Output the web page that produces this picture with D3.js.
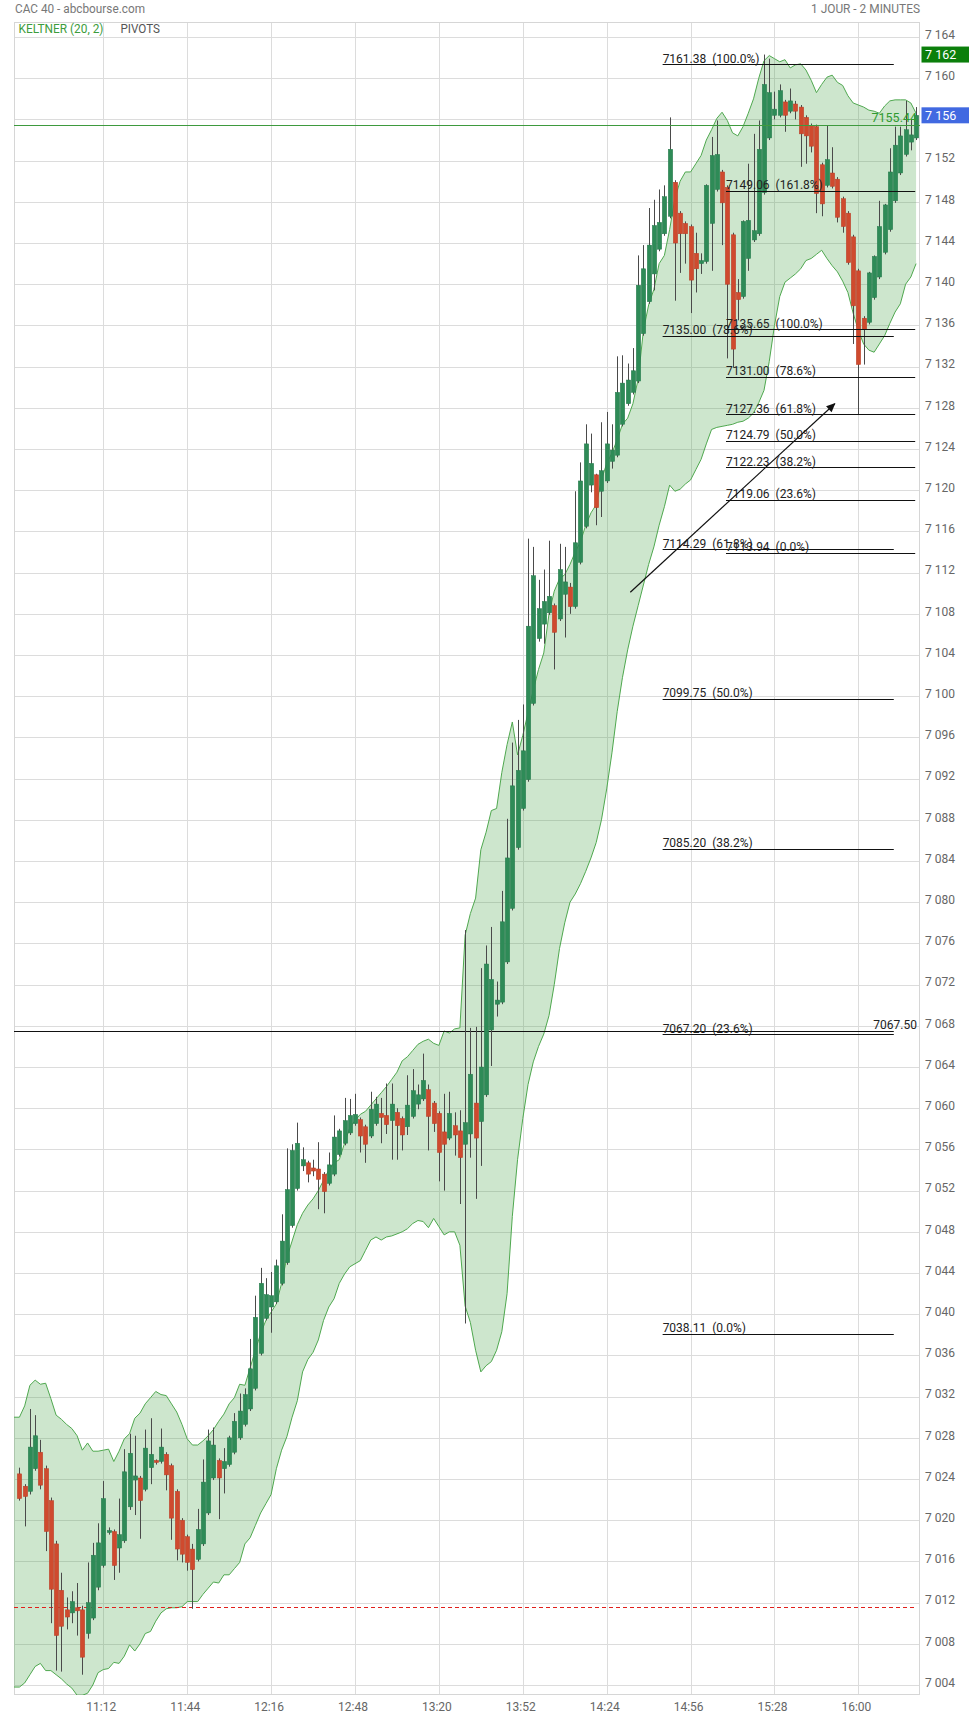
<!DOCTYPE html>
<html><head><meta charset="utf-8">
<script src="https://cdn.jsdelivr.net/npm/d3@7"></script>
<style>
body{margin:0;background:#fff;}
svg text{font-family:Roboto,"Noto Sans",Arial,sans-serif;}
</style>
</head><body>
<script>
// ---------------- DATA ----------------
const startTime = "10:40";          // first 2-minute candle
const candleMinutes = 2;
const xDomain = ["10:37:56", "16:23:30"];
const yDomain = [7003.03, 7165.46];

const opens = [
7024.5,7023.3,7022.8,7025.0,7026.6,7025.0,7021.9,7017.7,7013.2,7011.3,
7011.0,7011.5,7011.3,7009.0,7010.5,7013.5,7015.6,7018.8,7018.9,7017.3,
7018.0,7021.3,7023.9,7024.1,7023.0,7025.1,7025.8,7025.7,7026.4,7025.3,
7022.8,7020.0,7018.4,7017.2,7016.2,7017.7,7020.7,7024.1,7025.8,7025.0,
7025.4,7026.6,7028.0,7029.3,7030.8,7032.8,7036.2,7039.6,7040.7,7041.2,
7043.0,7045.0,7048.6,7052.2,7054.4,7054.7,7054.2,7054.1,7053.6,7052.7,
7053.6,7055.5,7056.6,7057.6,7058.5,7058.9,7058.2,7057.3,7058.5,7059.5,
7059.3,7058.8,7059.6,7059.0,7058.2,7059.2,7060.4,7060.9,7061.8,7060.5,
7059.5,7057.7,7057.1,7058.3,7057.8,7056.5,7057.5,7060.5,7058.7,7061.3,
7067.6,7070.1,7070.3,7074.2,7079.4,7085.3,7089.1,7091.9,7099.3,7105.6,
7107.0,7108.1,7108.8,7107.5,7109.9,7110.6,7108.7,7113.0,7116.5,7120.5,
7121.5,7119.9,7120.9,7122.8,7123.4,7126.4,7128.4,7129.5,7130.6,7135.2,
7138.3,7141.0,7143.4,7144.9,7146.6,7149.9,7146.9,7145.9,7145.6,7143.0,
7142.0,7142.2,7145.9,7149.2,7150.9,7149.4,7144.8,7139.2,7138.8,7142.5,
7144.3,7144.9,7148.9,7154.2,7156.4,7156.4,7157.7,7156.8,7157.5,7157.2,
7156.2,7155.4,7155.3,7151.6,7149.6,7150.8,7150.2,7148.3,7146.9,7144.6,
7141.3,7136.7,7136.3,7138.7,7140.7,7143.1,7145.3,7148.1,7150.8,7152.6,
7153.8,7154.2];

const highs = [
7025.1,7023.5,7030.8,7030.2,7027.8,7025.3,7022.2,7018.0,7014.9,7012.5,
7013.1,7013.9,7011.7,7015.9,7017.8,7019.7,7023.8,7019.3,7019.1,7022.1,
7026.9,7028.4,7028.2,7024.3,7028.8,7029.9,7025.9,7028.9,7026.6,7025.5,
7023.0,7020.2,7018.6,7017.7,7021.1,7025.9,7028.8,7029.0,7026.0,7027.0,
7028.2,7030.4,7032.3,7032.8,7037.6,7041.8,7044.5,7043.5,7044.1,7045.3,
7049.7,7056.1,7056.5,7058.6,7056.2,7054.9,7055.0,7056.7,7053.8,7055.7,
7059.3,7058.0,7061.0,7060.9,7061.4,7059.1,7058.4,7061.6,7061.1,7061.0,
7062.4,7062.4,7060.0,7059.2,7063.2,7063.8,7062.3,7065.3,7062.3,7060.7,
7059.7,7061.4,7061.6,7059.6,7059.8,7077.3,7067.8,7067.9,7073.6,7075.8,
7077.6,7072.3,7081.1,7088.1,7095.5,7097.7,7099.2,7115.3,7114.5,7111.3,
7112.3,7115.1,7109.0,7114.8,7114.5,7111.0,7119.9,7122.7,7126.4,7125.5,
7121.6,7126.6,7127.6,7126.4,7133.0,7133.1,7132.3,7133.8,7142.8,7143.8,
7147.4,7148.2,7149.2,7149.6,7156.2,7150.1,7147.1,7146.1,7145.8,7145.0,
7143.0,7149.7,7154.3,7155.9,7151.1,7149.6,7145.0,7140.5,7146.2,7151.7,
7154.6,7155.9,7162.3,7161.9,7158.7,7159.4,7157.9,7159.0,7157.8,7157.4,
7156.4,7155.6,7155.5,7151.8,7155.4,7153.3,7150.4,7148.5,7147.1,7144.8,
7141.5,7136.9,7141.2,7142.8,7148.1,7147.8,7153.2,7155.3,7155.3,7157.8,
7156.0,7157.2];

const lows = [
7021.9,7019.4,7022.5,7024.8,7023.0,7017.0,7010.0,7005.4,7005.3,7009.4,
7010.0,7008.8,7005.0,7008.5,7010.3,7013.2,7015.4,7018.6,7014.2,7014.9,
7017.8,7021.0,7020.5,7018.2,7022.8,7023.5,7025.4,7025.5,7022.9,7018.1,
7016.1,7015.9,7015.1,7011.4,7016.0,7017.5,7020.5,7023.9,7020.1,7022.6,
7025.2,7026.4,7027.8,7029.1,7030.6,7032.6,7036.0,7039.4,7038.2,7041.0,
7042.8,7044.8,7048.4,7052.0,7053.9,7052.8,7053.4,7050.2,7049.8,7052.5,
7053.4,7055.3,7056.4,7057.4,7058.3,7055.7,7054.7,7057.1,7058.3,7056.6,
7057.5,7055.0,7055.0,7055.9,7057.4,7059.0,7059.9,7060.7,7055.9,7057.7,
7052.9,7052.0,7056.9,7055.4,7050.7,7039.1,7055.2,7051.2,7054.4,7061.1,
7064.1,7068.9,7070.1,7074.0,7079.2,7085.1,7088.9,7091.7,7099.1,7105.3,
7105.1,7107.9,7102.6,7107.3,7105.7,7108.0,7108.5,7112.8,7116.3,7119.8,
7116.6,7117.4,7120.7,7122.1,7123.2,7126.2,7128.2,7129.3,7130.4,7135.0,
7138.1,7139.4,7143.2,7144.7,7146.4,7138.4,7141.1,7142.0,7137.2,7139.2,
7141.0,7142.0,7141.3,7149.0,7143.8,7132.8,7131.9,7136.5,7138.6,7141.3,
7144.1,7144.7,7148.7,7154.0,7156.0,7156.2,7154.8,7156.6,7156.0,7151.4,
7151.7,7152.8,7146.9,7146.6,7149.4,7149.3,7146.0,7145.0,7141.9,7134.2,
7127.3,7132.2,7136.1,7138.5,7140.5,7142.9,7145.1,7147.9,7150.6,7152.4,
7153.0,7154.0];

const closes = [
7022.1,7022.3,7027.1,7028.2,7023.4,7018.9,7013.3,7008.8,7009.7,7010.6,
7012.1,7011.2,7006.7,7012.0,7016.6,7017.8,7022.1,7019.0,7015.6,7018.6,
7024.7,7026.5,7024.3,7021.9,7027.0,7026.4,7025.6,7027.1,7024.4,7020.2,
7017.2,7016.7,7015.9,7015.2,7019.1,7023.7,7027.7,7027.3,7024.1,7025.7,
7028.0,7029.6,7030.6,7032.2,7034.7,7039.7,7043.0,7041.9,7041.8,7044.7,
7047.1,7052.1,7055.9,7056.6,7055.0,7053.6,7053.9,7053.1,7051.9,7054.5,
7057.2,7057.8,7058.8,7059.3,7059.4,7057.3,7056.5,7059.9,7060.4,7059.1,
7058.4,7060.4,7058.3,7057.4,7060.3,7061.7,7061.3,7062.7,7059.2,7058.5,
7055.7,7056.5,7059.5,7057.4,7055.2,7058.6,7063.3,7057.1,7064.0,7074.0,
7072.5,7070.5,7078.1,7084.3,7091.3,7092.8,7094.7,7106.8,7111.7,7108.5,
7109.2,7109.7,7106.2,7112.3,7111.1,7108.7,7114.9,7120.9,7124.5,7122.6,
7118.3,7121.9,7124.5,7123.9,7129.5,7130.4,7130.7,7131.6,7139.9,7141.5,
7143.8,7145.7,7146.0,7148.5,7153.1,7144.0,7144.9,7144.9,7140.4,7141.5,
7142.3,7149.6,7152.5,7152.6,7147.9,7140.0,7133.7,7138.5,7146.1,7146.2,
7145.2,7153.1,7159.4,7158.6,7157.0,7158.8,7156.4,7157.8,7156.8,7154.6,
7154.4,7153.4,7148.8,7147.8,7152.1,7149.5,7146.5,7145.6,7142.1,7137.9,
7132.2,7135.6,7141.1,7142.7,7145.6,7147.7,7150.9,7153.5,7154.4,7155.0,
7154.5,7156.4];

const keltnerUpper = [
7030.0,7031.1,7033.1,7033.6,7033.2,7033.3,7031.8,7030.2,7029.8,7029.3,
7028.9,7028.2,7026.8,7027.5,7026.7,7026.7,7026.8,7026.9,7025.7,7026.7,
7027.9,7028.4,7029.9,7030.4,7031.3,7031.9,7032.5,7032.2,7032.1,7031.3,
7030.5,7029.3,7027.9,7027.3,7027.3,7027.7,7028.2,7028.8,7029.6,7030.3,
7031.3,7031.9,7033.2,7033.1,7034.8,7036.5,7038.1,7039.4,7040.2,7041.0,
7043.0,7045.5,7047.1,7048.7,7049.8,7050.6,7051.2,7052.0,7053.0,7054.0,
7054.7,7055.0,7056.6,7058.1,7058.8,7059.4,7059.7,7060.3,7060.9,7061.5,
7062.1,7062.8,7063.5,7064.6,7065.0,7065.6,7066.2,7066.5,7066.7,7066.3,
7066.1,7067.5,7067.3,7067.7,7067.8,7076.8,7078.9,7080.4,7085.1,7086.8,
7088.9,7089.1,7092.6,7095.3,7097.5,7094.3,7096.2,7098.4,7100.6,7102.6,
7104.2,7108.0,7110.2,7111.4,7111.8,7112.8,7114.0,7115.0,7116.6,7117.8,
7118.6,7121.0,7122.6,7123.6,7124.9,7126.4,7127.0,7128.4,7130.8,7135.5,
7138.0,7139.5,7142.0,7142.8,7145.3,7148.3,7150.0,7150.9,7150.9,7151.7,
7152.5,7154.0,7155.0,7156.1,7156.7,7155.9,7154.7,7154.4,7155.3,7156.6,
7158.0,7160.0,7161.7,7162.2,7161.9,7161.6,7161.8,7161.0,7161.3,7161.4,
7160.8,7159.8,7158.6,7159.4,7160.1,7160.3,7159.6,7159.3,7158.3,7157.6,
7157.4,7157.2,7156.9,7156.8,7156.6,7157.3,7157.8,7157.9,7157.9,7157.9,
7157.6,7156.6];

const keltnerLower = [
7003.8,7004.2,7005.0,7005.8,7006.1,7005.4,7005.4,7005.0,7004.6,7004.1,
7003.7,7003.0,7003.0,7003.2,7004.0,7005.2,7005.5,7005.6,7006.2,7006.1,
7006.8,7007.9,7007.3,7008.0,7009.0,7009.2,7010.2,7011.0,7011.4,7011.5,
7011.5,7011.6,7012.1,7012.1,7012.1,7012.8,7013.4,7014.0,7013.9,7014.7,
7014.7,7015.3,7015.9,7017.7,7018.3,7019.5,7020.7,7021.6,7022.5,7025.0,
7026.8,7028.1,7030.0,7031.6,7034.4,7035.6,7036.3,7037.5,7039.4,7040.7,
7041.5,7043.0,7043.9,7044.6,7044.9,7045.2,7046.2,7047.2,7047.5,7047.2,
7047.5,7047.6,7047.8,7048.0,7048.3,7048.8,7049.1,7049.0,7048.4,7049.3,
7048.5,7047.7,7048.0,7048.0,7046.7,7040.8,7039.2,7036.5,7034.4,7035.0,
7035.4,7036.5,7038.3,7042.0,7049.5,7055.0,7059.0,7062.3,7064.5,7066.0,
7067.2,7069.0,7072.0,7075.5,7078.0,7080.0,7080.8,7081.8,7083.0,7084.3,
7085.8,7088.0,7091.0,7094.5,7098.5,7101.8,7104.5,7106.8,7108.8,7110.8,
7112.8,7114.5,7116.6,7118.4,7120.5,7119.9,7120.1,7120.6,7121.0,7122.0,
7123.0,7124.5,7125.9,7126.1,7126.2,7126.3,7126.4,7126.6,7126.7,7127.0,
7127.5,7128.5,7129.7,7132.5,7136.0,7138.8,7140.2,7140.6,7141.0,7141.5,
7142.3,7142.5,7142.9,7143.3,7142.5,7141.8,7141.2,7140.3,7139.2,7137.2,
7135.5,7134.2,7133.6,7133.4,7134.2,7135.0,7136.2,7137.3,7138.1,7140.0,
7140.7,7142.0];

const timeTicks = ["11:12","11:44","12:16","12:48","13:20","13:52","14:24","14:56","15:28","16:00"];
const priceTicks = [7004,7008,7012,7016,7020,7024,7028,7032,7036,7040,7044,7048,7052,7056,7060,
  7064,7068,7072,7076,7080,7084,7088,7092,7096,7100,7104,7108,7112,7116,7120,7124,7128,
  7132,7136,7140,7144,7148,7152,7156,7160,7164];

// Fibonacci retracement / extension sets
const fibALevels = [7161.38, 7135.00, 7114.29, 7099.75, 7085.20, 7067.20, 7038.11];
const fibAPct    = ["100.0%","78.6%","61.8%","50.0%","38.2%","23.6%","0.0%"];
const fibASpan   = ["14:45:20","16:13:30"];
const fibBLevels = [7149.06, 7135.65, 7131.00, 7127.36, 7124.79, 7122.23, 7119.06, 7113.94];
const fibBPct    = ["161.8%","100.0%","78.6%","61.8%","50.0%","38.2%","23.6%","0.0%"];
const fibBSpan   = ["15:09:30","16:21:40"];

const pivotValue = 7067.50;
const pivotSpan = ["10:37:56","16:13:30"];
const greenLineValue = 7155.44;
const supportValue = 7011.55;
const arrowFrom = {t:"14:33:00", v:7110.1};
const arrowTo   = {t:"15:51:00", v:7128.4};

const titleLeft = "CAC 40 - abcbourse.com";
const titleRight = "1 JOUR - 2 MINUTES";
const legendItems = ["KELTNER (20, 2)", "PIVOTS"];

// ---------------- DRAWING ----------------
const W = 969, H = 1718;
const plot = {left:14, right:920, top:22, bottom:1695};

const parseT = s => { const p = s.split(":").map(Number); return new Date(2021,0,4,p[0],p[1],p[2]||0); };
const x = d3.scaleTime().domain(xDomain.map(parseT)).range([plot.left, plot.right]);
const y = d3.scaleLinear().domain(yDomain).range([plot.bottom, plot.top]);
const loc = d3.formatLocale({decimal:".", thousands:" ", grouping:[3], currency:["",""]});
const fmtInt = loc.format(",d");

const t0 = parseT(startTime);
const candles = opens.map((o,i)=>({
  t: d3.timeMinute.offset(t0, i*candleMinutes),
  o, h:highs[i], l:lows[i], c:closes[i], u:keltnerUpper[i], lo:keltnerLower[i]
}));

const svg = d3.select("body").append("svg").attr("width",W).attr("height",H)
  .style("display","block");
svg.append("rect").attr("width",W).attr("height",H).attr("fill","#fff");

svg.append("defs").append("clipPath").attr("id","plotclip").append("rect")
  .attr("x",plot.left).attr("y",plot.top)
  .attr("width",plot.right-plot.left).attr("height",plot.bottom-plot.top);
svg.select("defs").append("marker").attr("id","arrowhead")
  .attr("viewBox","0 0 10 10").attr("refX",9).attr("refY",5)
  .attr("markerWidth",10).attr("markerHeight",9).attr("markerUnits","userSpaceOnUse")
  .attr("orient","auto")
  .append("path").attr("d","M0,0.5 L10,5 L0,9.5 Z").attr("fill","#111");

const crisp = v => Math.round(v)+0.5;

// grid
const grid = svg.append("g");
grid.selectAll("line.h").data(priceTicks).join("line")
  .attr("x1",plot.left).attr("x2",plot.right)
  .attr("y1",d=>crisp(y(d))).attr("y2",d=>crisp(y(d)))
  .attr("stroke","#dcdcdc").attr("stroke-width",1);
grid.selectAll("line.v").data(timeTicks).join("line")
  .attr("x1",d=>crisp(x(parseT(d)))).attr("x2",d=>crisp(x(parseT(d))))
  .attr("y1",plot.top).attr("y2",plot.bottom)
  .attr("stroke","#dcdcdc").attr("stroke-width",1);
// border
svg.append("rect").attr("x",plot.left+0.5).attr("y",plot.top+0.5)
  .attr("width",plot.right-plot.left-1).attr("height",plot.bottom-plot.top-1)
  .attr("fill","none").attr("stroke","#d6d6d6");

const g = svg.append("g").attr("clip-path","url(#plotclip)");

// Keltner band
const bandPts = [{px:plot.left, u:candles[0].u, lo:candles[0].lo}].concat(candles.map(d=>({px:x(d.t), u:d.u, lo:d.lo})));
g.append("path").datum(bandPts)
  .attr("d", d3.area().x(d=>d.px).y0(d=>y(d.lo)).y1(d=>y(d.u)))
  .attr("fill","rgb(60,160,60)").attr("fill-opacity",0.26);
["u","lo"].forEach(k=>{
  g.append("path").datum(bandPts)
    .attr("d", d3.line().x(d=>d.px).y(d=>y(d[k])))
    .attr("fill","none").attr("stroke","#4fa84f").attr("stroke-width",1);
});

// support dashed line
g.append("line").attr("x1",plot.left).attr("x2",plot.right-4)
  .attr("y1",crisp(y(supportValue))).attr("y2",crisp(y(supportValue)))
  .attr("stroke","#e0201c").attr("stroke-width",1).attr("stroke-dasharray","4,3");

// pivot line
g.append("line").attr("x1",x(parseT(pivotSpan[0]))).attr("x2",x(parseT(pivotSpan[1])))
  .attr("y1",crisp(y(pivotValue))).attr("y2",crisp(y(pivotValue)))
  .attr("stroke","#111").attr("stroke-width",1);

// candles
const cg = g.append("g");
const cand = cg.selectAll("g").data(candles).join("g");
cand.append("line")
  .attr("x1",d=>crisp(x(d.t))).attr("x2",d=>crisp(x(d.t)))
  .attr("y1",d=>y(d.h)).attr("y2",d=>y(d.l))
  .attr("stroke","#4a4a4a").attr("stroke-width",1);
cand.append("rect")
  .attr("x",d=>crisp(x(d.t))-2.2).attr("width",4.4)
  .attr("y",d=>y(Math.max(d.o,d.c)))
  .attr("height",d=>Math.max(1, Math.abs(y(d.o)-y(d.c))))
  .attr("fill",d=>d.c>=d.o ? "#2e8b57" : "#cf4a2e")
  .attr("stroke",d=>d.c>=d.o ? "#277a4c" : "#b8402a").attr("stroke-width",0.5);

// green horizontal line
g.append("line").attr("x1",plot.left).attr("x2",plot.right)
  .attr("y1",crisp(y(greenLineValue))).attr("y2",crisp(y(greenLineValue)))
  .attr("stroke","#3e9a3e").attr("stroke-width",1);

// Fibonacci sets
function drawFib(levels, pcts, span){
  const x1 = x(parseT(span[0])), x2 = x(parseT(span[1]));
  const fg = g.append("g");
  levels.forEach((v,i)=>{
    fg.append("line").attr("x1",x1).attr("x2",x2)
      .attr("y1",crisp(y(v))).attr("y2",crisp(y(v)))
      .attr("stroke","#111").attr("stroke-width",1);
    fg.append("text").attr("x",x1).attr("y",y(v)-1.5)
      .style("white-space","pre")
      .attr("font-size",12).attr("fill","#222")
      .text(v.toFixed(2)+"  ("+pcts[i]+")");
  });
}
drawFib(fibALevels, fibAPct, fibASpan);
drawFib(fibBLevels, fibBPct, fibBSpan);

// arrow
g.append("line")
  .attr("x1",x(parseT(arrowFrom.t))).attr("y1",y(arrowFrom.v))
  .attr("x2",x(parseT(arrowTo.t))).attr("y2",y(arrowTo.v))
  .attr("stroke","#111").attr("stroke-width",1.2)
  .attr("marker-end","url(#arrowhead)");

// line labels
svg.append("text").attr("x",plot.right-3).attr("y",y(pivotValue)-2)
  .attr("text-anchor","end").attr("font-size",12).attr("fill","#222")
  .text(pivotValue.toFixed(2));
svg.append("text").attr("x",plot.right-3).attr("y",y(greenLineValue)-3)
  .attr("text-anchor","end").attr("font-size",12.5).attr("fill","#2f9a2f")
  .text(greenLineValue.toFixed(2));

// y axis labels
svg.append("g").selectAll("text").data(priceTicks).join("text")
  .attr("x",plot.right+5).attr("y",d=>y(d)+1.8)
  .attr("font-size",12).attr("fill","#666")
  .text(d=>fmtInt(d));

// highlighted price boxes: day high and last close
const dayHigh = d3.max(highs);
const lastClose = closes[closes.length-1];
[[dayHigh,"#0b7f0b"],[lastClose,"#4169e1"]].forEach(([v,col])=>{
  const yc = y(v);
  svg.append("rect").attr("x",plot.right+1.5).attr("y",yc-8).attr("width",W-plot.right-1.5).attr("height",16)
    .attr("fill",col);
  svg.append("text").attr("x",plot.right+5).attr("y",yc+4.3)
    .attr("font-size",12.5).attr("fill","#fff").text(fmtInt(Math.round(v)));
});

// x axis labels
svg.append("g").selectAll("text").data(timeTicks).join("text")
  .attr("x",d=>x(parseT(d))-2).attr("y",1711)
  .attr("text-anchor","middle").attr("font-size",12).attr("fill","#666")
  .text(d=>d);

// header
svg.append("text").attr("x",15).attr("y",13).attr("font-size",12.5).attr("fill","#777")
  .attr("textLength",130).attr("lengthAdjust","spacingAndGlyphs").text(titleLeft);
svg.append("text").attr("x",811).attr("y",13).attr("font-size",12.5).attr("fill","#777")
  .attr("textLength",109).attr("lengthAdjust","spacingAndGlyphs").text(titleRight);
svg.append("text").attr("x",18.5).attr("y",33).attr("font-size",12.5).attr("fill","#3c9c3c")
  .attr("textLength",85).attr("lengthAdjust","spacingAndGlyphs").text(legendItems[0]);
svg.append("text").attr("x",120.5).attr("y",33).attr("font-size",12.5).attr("fill","#555")
  .attr("textLength",39.5).attr("lengthAdjust","spacingAndGlyphs").text(legendItems[1]);
</script>
</body></html>
